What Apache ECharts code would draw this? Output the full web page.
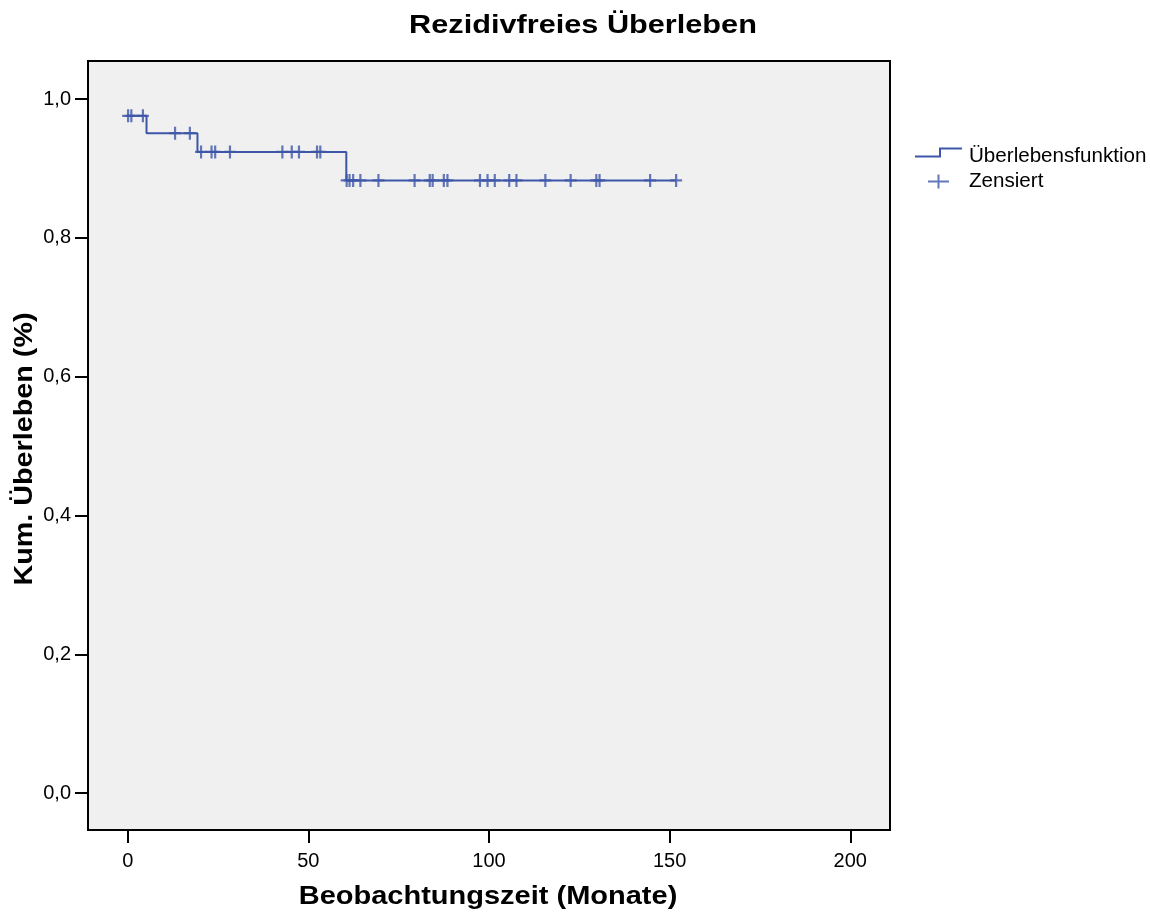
<!DOCTYPE html>
<html><head><meta charset="utf-8">
<script src="https://cdn.jsdelivr.net/npm/echarts@6/dist/echarts.min.js"></script>
<style>html,body{margin:0;padding:0;background:#fff}#c{width:1150px;height:914px}</style>
</head><body><div id="c"></div>
<script>
// Kaplan-Meier step curve: event times and survival level after each step
const stepTimes = [0, 5.2, 19.3, 60.5];
const stepSurv  = [0.976, 0.951, 0.924, 0.883];
const lastTime  = 151.8;
// censored observations (time, survival level)
const censorTimes = [0.1, 1.0, 4.2, 13.1, 17.2, 20.3, 23.2, 24.2, 28.3, 42.8, 45.4, 47.4, 52.4, 53.3,
  60.6, 61.4, 62.4, 64.4, 69.4, 79.4, 83.6, 84.4, 87.5, 88.5, 97.5, 99.6, 101.6, 105.6, 107.6,
  115.6, 122.6, 129.7, 130.6, 144.6, 151.8];
const censorSurv = [0.976, 0.976, 0.976, 0.951, 0.951, 0.924, 0.924, 0.924, 0.924, 0.924, 0.924, 0.924, 0.924, 0.924,
  0.883, 0.883, 0.883, 0.883, 0.883, 0.883, 0.883, 0.883, 0.883, 0.883, 0.883, 0.883, 0.883, 0.883, 0.883,
  0.883, 0.883, 0.883, 0.883, 0.883, 0.883];
const xTicks = [0, 50, 100, 150, 200];
const yTicks = [0, 0.2, 0.4, 0.6, 0.8, 1.0];
const titleText = 'Rezidivfreies Überleben';
const xName = 'Beobachtungszeit (Monate)';
const yName = 'Kum. Überleben (%)';

const FONT = 'Liberation Sans, Arial, sans-serif';
const BLUE = '#3d56a8';
const curve = stepTimes.map((t, i) => [t, stepSurv[i]]);
curve.push([lastTime, stepSurv[stepSurv.length - 1]]);
const cens = censorTimes.map((t, i) => [t, censorSurv[i]]);

const CROSS = 'path://M4.9,0H7.1V4.9H12V7.1H7.1V12H4.9V7.1H0V4.9H4.9Z';
const DOTS = 'M0,0h0.01v0.01h-0.01Z M46.99,17.99h0.01v0.01h-0.01Z';
const STEP = 'path://M0,8H24V0H47V2H26V10H0Z ' + DOTS;
const LCROSS = 'path://M22.5,2H24.5V16H22.5Z M13,8H34V10H13Z ' + DOTS;

const chart = echarts.init(document.getElementById('c'), null, {renderer: 'canvas'});
chart.setOption({
  animation: false,
  backgroundColor: '#fff',
  textStyle: {fontFamily: FONT},
  graphic: [
    {type: 'text', x: 583, y: 26, scaleX: 1.18,
      style: {text: titleText, font: 'bold 26px ' + FONT, fill: '#000', align: 'center', verticalAlign: 'middle'}},
    {type: 'text', x: 488, y: 897, scaleX: 1.16,
      style: {text: xName, font: 'bold 25px ' + FONT, fill: '#000', align: 'center', verticalAlign: 'middle'}},
    {type: 'text', x: 25, y: 449, scaleX: 1.15, rotation: Math.PI / 2,
      style: {text: yName, font: 'bold 25px ' + FONT, fill: '#000', align: 'center', verticalAlign: 'middle'}}
  ],
  legend: {
    orient: 'vertical', left: 915, top: 146, padding: 0, itemWidth: 47, itemHeight: 18, itemGap: 4,
    textStyle: {fontFamily: FONT, fontSize: 20.6, color: '#000', padding: [0, 0, 0, 2]},
    data: [
      {name: 'Überlebensfunktion', icon: STEP},
      {name: 'Zensiert', icon: LCROSS}
    ]
  },
  grid: {left: 88, right: 260, top: 61, bottom: 84, show: true, backgroundColor: '#f0f0f0',
    borderColor: '#000', borderWidth: 2, containLabel: false, outerBoundsMode: 'none'},
  xAxis: {
    type: 'value', min: -11, max: 211,
    axisLine: {show: true, onZero: false, lineStyle: {color: '#000', width: 2}},
    axisTick: {show: true, length: 13, customValues: xTicks, lineStyle: {color: '#000', width: 2}},
    axisLabel: {customValues: xTicks, margin: 21, fontSize: 20, color: '#000', fontFamily: FONT},
    splitLine: {show: false}
  },
  yAxis: {
    type: 'value', min: -0.053, max: 1.055,
    axisLine: {show: true, onZero: false, lineStyle: {color: '#000', width: 2}},
    axisTick: {show: true, length: 13, customValues: yTicks, lineStyle: {color: '#000', width: 2}},
    axisLabel: {customValues: yTicks, margin: 17, fontSize: 20, color: '#000', fontFamily: FONT,
      formatter: v => v.toFixed(1).replace('.', ',')},
    splitLine: {show: false}
  },
  series: [
    {name: 'Überlebensfunktion', type: 'line', step: 'end', data: curve, showSymbol: false,
      symbol: 'none', color: BLUE, lineStyle: {color: BLUE, width: 2}},
    {name: 'Zensiert', type: 'scatter', data: cens, symbol: CROSS, symbolSize: [12, 13],
      color: BLUE, itemStyle: {color: BLUE}}
  ]
});
</script></body></html>
